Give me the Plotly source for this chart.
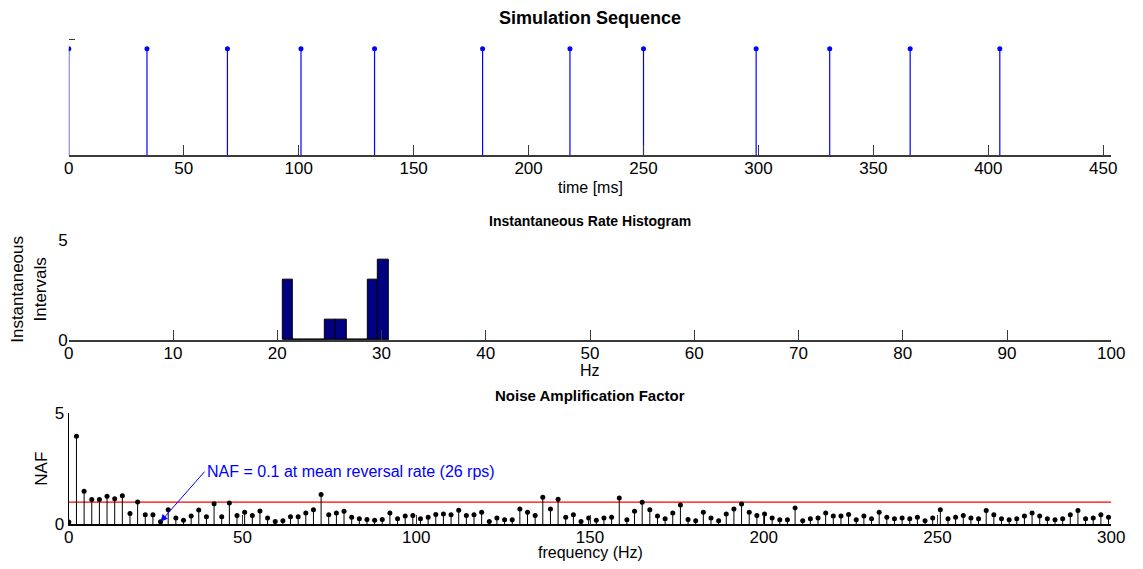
import plotly.graph_objects as go

# ---------------- data ----------------
# Simulation sequence (event times, ms)
spike_times = [0, 34, 69, 101, 133, 180, 218, 250, 299, 331, 366, 405]
spike_amp = [1, 1, 1, 1, 1, 1, 1, 1, 1, 1, 1, 1]
time_ticks = [0, 50, 100, 150, 200, 250, 300, 350, 400, 450]

# Instantaneous rate histogram
hist_centers = [21.01, 22.03, 23.05, 24.07, 25.09, 26.11, 27.13, 28.15, 29.17, 30.19]
hist_counts = [3, 0, 0, 0, 1, 1, 0, 0, 3, 4]
hist_width = 1.02
hz_ticks = [0, 10, 20, 30, 40, 50, 60, 70, 80, 90, 100]

# Noise amplification factor
naf_freq = [
    0.0, 2.2, 4.4, 6.6, 8.8, 11.0, 13.2, 15.4, 17.6, 19.8,
    22.0, 24.2, 26.4, 28.6, 30.8, 33.0, 35.2, 37.4, 39.6, 41.8,
    44.0, 46.2, 48.4, 50.6, 52.8, 55.0, 57.2, 59.4, 61.6, 63.8,
    66.0, 68.2, 70.4, 72.6, 74.8, 77.0, 79.2, 81.4, 83.6, 85.8,
    88.0, 90.2, 92.4, 94.6, 96.8, 99.0, 101.2, 103.4, 105.6, 107.8,
    110.0, 112.2, 114.4, 116.6, 118.8, 121.0, 123.2, 125.4, 127.6, 129.8,
    132.0, 134.2, 136.4, 138.6, 140.8, 143.0, 145.2, 147.4, 149.6, 151.8,
    154.0, 156.2, 158.4, 160.6, 162.8, 165.0, 167.2, 169.4, 171.6, 173.8,
    176.0, 178.2, 180.4, 182.6, 184.8, 187.0, 189.2, 191.4, 193.6, 195.8,
    198.0, 200.2, 202.4, 204.6, 206.8, 209.0, 211.2, 213.4, 215.6, 217.8,
    220.0, 222.2, 224.4, 226.6, 228.8, 231.0, 233.2, 235.4, 237.6, 239.8,
    242.0, 244.2, 246.4, 248.6, 250.8, 253.0, 255.2, 257.4, 259.6, 261.8,
    264.0, 266.2, 268.4, 270.6, 272.8, 275.0, 277.2, 279.4, 281.6, 283.8,
    286.0, 288.2, 290.4, 292.6, 294.8, 297.0, 299.2,
]
naf_vals = [
    0.10, 3.96, 1.49, 1.12, 1.12, 1.26, 1.15, 1.29, 0.49, 1.00,
    0.43, 0.43, 0.12, 0.66, 0.29, 0.18, 0.38, 0.65, 0.34, 0.93,
    0.34, 0.96, 0.40, 0.54, 0.40, 0.60, 0.29, 0.13, 0.16, 0.34,
    0.34, 0.51, 0.66, 1.34, 0.43, 0.51, 0.59, 0.32, 0.25, 0.22,
    0.18, 0.22, 0.51, 0.25, 0.37, 0.40, 0.25, 0.32, 0.44, 0.47,
    0.43, 0.63, 0.40, 0.43, 0.54, 0.13, 0.28, 0.21, 0.21, 0.69,
    0.54, 0.40, 1.22, 0.69, 1.13, 0.32, 0.43, 0.13, 0.28, 0.18,
    0.28, 0.32, 1.18, 0.21, 0.59, 0.99, 0.66, 0.37, 0.25, 0.51,
    0.87, 0.22, 0.16, 0.54, 0.28, 0.16, 0.47, 0.69, 0.91, 0.54,
    0.40, 0.47, 0.28, 0.21, 0.21, 0.74, 0.16, 0.25, 0.28, 0.51,
    0.37, 0.37, 0.44, 0.21, 0.37, 0.25, 0.54, 0.32, 0.25, 0.28,
    0.25, 0.32, 0.16, 0.28, 0.66, 0.25, 0.32, 0.40, 0.29, 0.25,
    0.62, 0.43, 0.25, 0.21, 0.25, 0.37, 0.51, 0.37, 0.25, 0.21,
    0.25, 0.43, 0.62, 0.25, 0.28, 0.43, 0.32,
]
naf_threshold = 1.0
freq_ticks = [0, 50, 100, 150, 200, 250, 300]
annot_freq = 26.4
annot_val = 0.12

# ---------------- helpers ----------------
def stem_xy(xs, ys):
    sx, sy = [], []
    for x, y in zip(xs, ys):
        sx += [x, x, None]
        sy += [0, y, None]
    return sx, sy

W, H = 1143, 569
# vertical compensation for how the page is rendered
SY, OYS = 0.966, 9.0
def fy(y):
    return (y - OYS) / SY
def py(y):
    return 1 - fy(y) / H
def pxf(x):  # figure-pixel x -> paper
    return x / W

FONT = "Liberation Sans, Arial, Helvetica, sans-serif"
AXC = "#3a3a3a"

fig = go.Figure()

# --- top: simulation sequence stems ---
sx, sy = stem_xy(spike_times, spike_amp)
fig.add_trace(go.Scatter(x=sx, y=sy, mode="lines", line=dict(color="#0000ff", width=1.2),
                         xaxis="x", yaxis="y", hoverinfo="skip", showlegend=False))
fig.add_trace(go.Scatter(x=spike_times, y=spike_amp, mode="markers",
                         marker=dict(color="#0000ff", size=5),
                         xaxis="x", yaxis="y", showlegend=False))

# --- middle: histogram ---
fig.add_trace(go.Bar(x=hist_centers, y=hist_counts, width=hist_width,
                     marker=dict(color="#000080", line=dict(color="#000000", width=1)),
                     xaxis="x2", yaxis="y2", showlegend=False))
edge_lo = hist_centers[0] - hist_width / 2
edge_hi = hist_centers[-1] + hist_width / 2
fig.add_trace(go.Scatter(x=[edge_lo, edge_hi], y=[0, 0], mode="lines",
                         line=dict(color="#000000", width=1.5),
                         xaxis="x2", yaxis="y2", hoverinfo="skip", showlegend=False))

# --- bottom: NAF stems ---
fig.add_trace(go.Scatter(x=[0, 300], y=[naf_threshold, naf_threshold], mode="lines",
                         line=dict(color="#ff0000", width=1.3),
                         xaxis="x3", yaxis="y3", hoverinfo="skip", showlegend=False))
nx, ny = stem_xy(naf_freq, naf_vals)
fig.add_trace(go.Scatter(x=nx, y=ny, mode="lines", line=dict(color="#000000", width=1),
                         xaxis="x3", yaxis="y3", hoverinfo="skip", showlegend=False))
fig.add_trace(go.Scatter(x=naf_freq, y=naf_vals, mode="markers",
                         marker=dict(color="#000000", size=5),
                         xaxis="x3", yaxis="y3", showlegend=False))

XL, XR = 64.9, 1125.0
xdom = [pxf(XL), pxf(XR)]
tickfont = dict(family=FONT, size=17, color="#000000")

common_x = dict(showgrid=False, zeroline=False, showline=True, linecolor=AXC, linewidth=1.5,
                ticks="inside", ticklen=10, tickcolor=AXC, tickfont=tickfont)

fig.update_layout(
    width=W, height=H,
    margin=dict(l=0, r=0, t=0, b=0),
    paper_bgcolor="white", plot_bgcolor="white",
    font=dict(family=FONT, color="#000000"),
    bargap=0,
    xaxis=dict(domain=xdom, range=[0, 453.5], tickvals=time_ticks, anchor="y", **common_x),
    yaxis=dict(domain=[py(155), py(38)], range=[0, 1.1], showgrid=False, zeroline=False,
               showline=False, ticks="inside", ticklen=6, tickcolor=AXC,
               tickvals=[1.09], showticklabels=False, anchor="x"),
    xaxis2=dict(domain=xdom, range=[0, 100], tickvals=hz_ticks, anchor="y2", **common_x),
    yaxis2=dict(domain=[py(339.5), py(239.5)], range=[0, 5], tickvals=[0, 5],
                showgrid=False, zeroline=False, showline=False, ticks="inside", ticklen=8,
                tickcolor=AXC, tickfont=tickfont, anchor="x2"),
    xaxis3=dict(domain=xdom, range=[0, 300], tickvals=freq_ticks, anchor="y3",
                **{**common_x, "linecolor": "#000000"}),
    yaxis3=dict(domain=[py(524), py(413)], range=[0, 5], tickvals=[0, 5],
                showgrid=False, zeroline=False, showline=True, linecolor="#000000",
                linewidth=1.2, ticks="inside", ticklen=8, tickcolor=AXC,
                tickfont=tickfont, anchor="x3"),
)
# pull x tick labels closer to the axis line
for ax_name in ["xaxis", "xaxis2", "xaxis3"]:
    try:
        fig.layout[ax_name].ticklabelstandoff = -3
    except Exception:
        fig.layout[ax_name].ticklabelstandoff = 0

cx = pxf((XL + XR) / 2)
ann = [
    dict(text="<b>Simulation Sequence</b>", x=cx, y=py(18), font=dict(size=18)),
    dict(text="time [ms]", x=cx, y=py(187), font=dict(size=16)),
    dict(text="<b>Instantaneous Rate Histogram</b>", x=cx, y=py(221), font=dict(size=14)),
    dict(text="Hz", x=cx, y=py(370), font=dict(size=16)),
    dict(text="<b>Noise Amplification Factor</b>", x=cx, y=py(395), font=dict(size=15)),
    dict(text="frequency (Hz)", x=cx, y=1 - 562 / H, font=dict(size=16)),
    dict(text="Instantaneous<br>Intervals", x=pxf(24), y=py(289), textangle=-90, font=dict(size=17)),
    dict(text="NAF", x=pxf(37), y=py(468), textangle=-90, font=dict(size=17)),
]
for a in ann:
    fig.add_annotation(xref="paper", yref="paper", showarrow=False, borderpad=0,
                       xanchor="center", yanchor="middle", **a)

fig.add_annotation(x=annot_freq, y=annot_val, xref="x3", yref="y3",
                   text="NAF = 0.1 at mean reversal rate (26 rps)",
                   font=dict(size=16, color="#0000ff", family=FONT),
                   showarrow=True, arrowhead=2, arrowsize=1.4, arrowwidth=1,
                   arrowcolor="#0000ff", ax=44, ay=-50, xanchor="left", yanchor="middle")

fig.write_html("out.html")
